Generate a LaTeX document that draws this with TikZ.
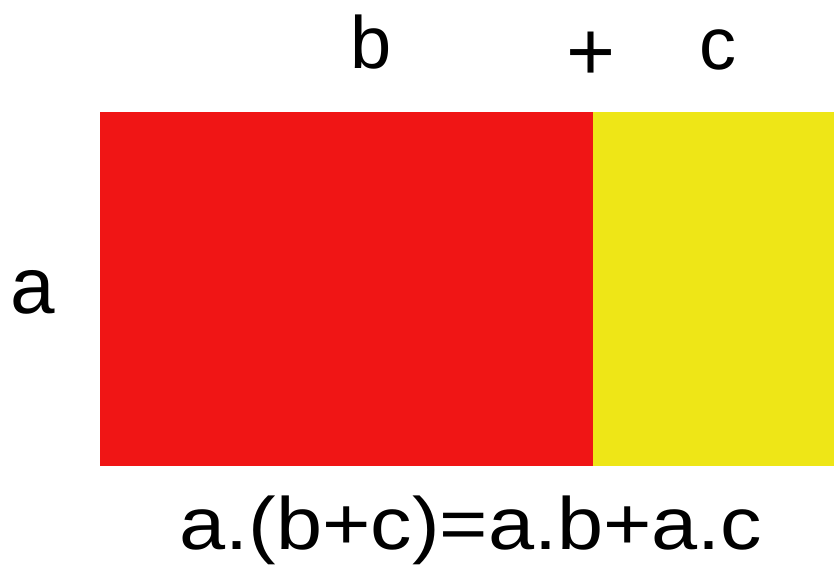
\documentclass[tikz,border=0pt]{standalone}
\usepackage{fontspec}
\setmainfont{Liberation Sans}
\definecolor{myred}{HTML}{F01515}
\definecolor{myyellow}{HTML}{EEE617}
\begin{document}
\begin{tikzpicture}[x=1pt,y=-1pt,
  lbl/.style={inner sep=0pt,anchor=base,text=black}]
\useasboundingbox (0,0) rectangle (834,569);
\fill[white] (0,0) rectangle (834,569);
\fill[myred] (100,112) rectangle (593,466);
\fill[myyellow] (593,112) rectangle (834,466);
\node[lbl,font=\fontsize{74}{80}\selectfont] (b) at (371,69) {b};
\node[lbl,font=\fontsize{84}{90}\selectfont] (plus) at (591,81) {+};
\node[lbl,font=\fontsize{74}{80}\selectfont] (c) at (718,70) {c};
\node[lbl,font=\fontsize{80}{86}\selectfont] (a) at (33,313) {a};
\node[lbl,font=\fontsize{74}{80}\selectfont,xscale=1.12] (eq) at (471,549) {a.(b+c)=a.b+a.c};
\end{tikzpicture}
\end{document}
